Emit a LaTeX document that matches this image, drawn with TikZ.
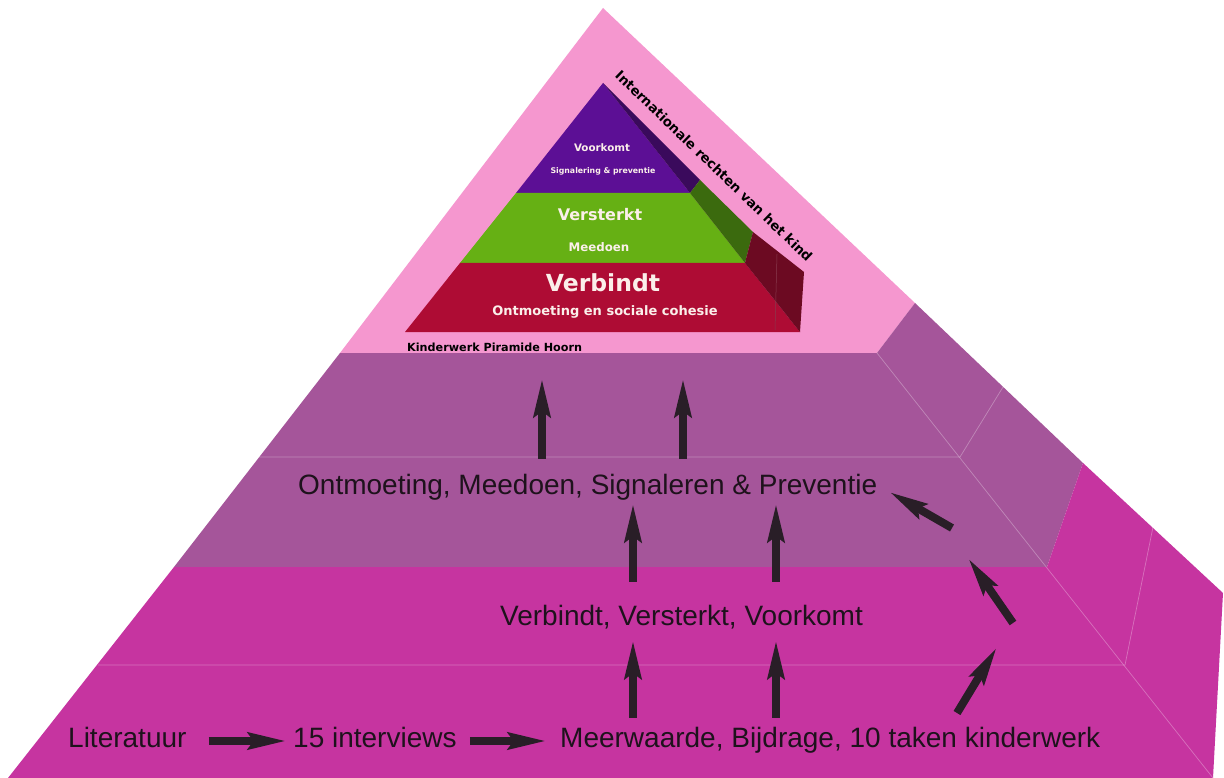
\documentclass[tikz,border=0pt]{standalone}
\usepackage{fontspec}
\setmainfont{Liberation Sans}
\newfontfamily\pyrfont{DejaVu Sans}
\usetikzlibrary{arrows.meta,calc}
\definecolor{pinktop}{HTML}{F597CF}
\definecolor{mauve}{HTML}{A5559A}
\definecolor{bandmag}{HTML}{C634A0}
\definecolor{pyrpurple}{HTML}{5C0F95}
\definecolor{pyrgreen}{HTML}{66B014}
\definecolor{pyrred}{HTML}{AE0C34}
\definecolor{sidepurple}{HTML}{3A0A5C}
\definecolor{sidegreen}{HTML}{3B6A0E}
\definecolor{sidered}{HTML}{6C0A22}
\definecolor{cream}{HTML}{FBEFEA}
\definecolor{ink}{HTML}{1E121C}
\tikzset{
  seam/.style={draw=white,opacity=0.3,line width=0.7pt},
  bigarrow/.style={draw=ink!95,line width=8pt,-{Stealth[length=38pt,width=16pt,inset=5pt]}},
  lbl/.style={font=\fontsize{28}{32}\selectfont,text=ink,inner sep=3pt},
  pyrtext/.style={text=cream,inner sep=1pt}
}

\begin{document}
\begin{tikzpicture}[x=1pt,y=-1pt]
    \useasboundingbox (0,0) rectangle (1224,778);
    \fill[white] (0,0) rectangle (1224,778);

    % big pyramid
    \fill[pinktop] (603,8) -- (915,303) -- (877,353) -- (340,353) -- cycle;
    \fill[mauve] (340,353) -- (877,353) -- (915,303) -- (1083,463) -- (1047,567) -- (174,567) -- cycle;
    \fill[bandmag] (174,567) -- (1047,567) -- (1083,463) -- (1223,593) -- (1213,778) -- (8,778) -- cycle;
    \draw[seam] (259,457) -- (960,457) -- (1003,387);
    \draw[seam] (98,665) -- (1125,665) -- (1153,527);
    \draw[seam] (877,353) -- (1213,778);

    % small pyramid
    \fill[pyrpurple] (603,83) -- (690,193) -- (516,193) -- cycle;
    \fill[pyrgreen] (516,193) -- (690,193) -- (745,263) -- (460,263) -- cycle;
    \fill[pyrred] (460,263) -- (745,263) -- (800,332) -- (405,332) -- cycle;
    \fill[sidepurple] (603,83) -- (700,180) -- (690,193) -- cycle;
    \fill[sidegreen] (690,193) -- (700,180) -- (753,232) -- (745,263) -- cycle;
    \fill[sidered] (745,263) -- (753,232) -- (804,272) -- (800,332) -- cycle;
    \draw[sidered!80!white,line width=0.5pt] (777,254) -- (775,330);

    \node[pyrtext,font=\pyrfont\bfseries\fontsize{10.3}{12}\selectfont] (voork) at (602,148) {Voorkomt};
    \node[pyrtext,font=\pyrfont\bfseries\fontsize{7.8}{9}\selectfont] (sign) at (603,171) {Signalering \& preventie};
    \node[pyrtext,font=\pyrfont\bfseries\fontsize{16}{19}\selectfont] (verst) at (600,215) {Versterkt};
    \node[pyrtext,font=\pyrfont\bfseries\fontsize{11.8}{14}\selectfont] (meed) at (599,247) {Meedoen};
    \node[pyrtext,font=\pyrfont\bfseries\fontsize{23.5}{26}\selectfont] (verbi) at (603,283) {Verbindt};
    \node[pyrtext,font=\pyrfont\bfseries\fontsize{13}{15}\selectfont] (cohes) at (605,312) {Ontmoeting en sociale cohesie};
    \node[font=\pyrfont\bfseries\fontsize{11.2}{13}\selectfont,text=black,inner sep=1pt,anchor=west] (kph) at (406,347) {Kinderwerk Piramide Hoorn};
    \node[font=\pyrfont\bfseries\fontsize{13.3}{15}\selectfont,text=black,rotate=-44] (irk) at (714,166) {Internationale rechten van het kind};

    % labels
    \node[lbl,anchor=base west] (ont) at (295,494) {Ontmoeting, Meedoen, Signaleren \& Preventie};
    \node[lbl,anchor=base west] (verb) at (497,625) {Verbindt, Versterkt, Voorkomt};
    \node[lbl,anchor=base west] (lit) at (65,747) {Literatuur};
    \node[lbl,anchor=base west] (intv) at (290,747) {15 interviews};
    \node[lbl,anchor=base west] (meer) at (557,747) {Meerwaarde, Bijdrage, 10 taken kinderwerk};

    % arrows
    \coordinate (xa) at (542,0);
    \coordinate (xb) at (683,0);
    \coordinate (xc) at (633,0);
    \coordinate (xd) at (776,0);
    \coordinate (topa) at (542,378);
    \coordinate (topb) at (683,378);
    \draw[bigarrow,shorten <=19pt,shorten >=3pt] ([yshift=6pt]lit.base east) -- ([yshift=6pt]intv.base west);
    \draw[bigarrow,shorten <=10pt,shorten >=10pt] ([yshift=6pt]intv.base east) -- ([yshift=6pt]meer.base west);
    \draw[bigarrow,shorten <=6pt,shorten >=8pt] (xc |- meer.north) -- (xc |- verb.south);
    \draw[bigarrow,shorten <=6pt,shorten >=8pt] (xd |- meer.north) -- (xd |- verb.south);
    \draw[bigarrow,shorten <=20pt] (xc |- verb.north) -- (xc |- ont.south);
    \draw[bigarrow,shorten <=20pt] (xd |- verb.north) -- (xd |- ont.south);
    \draw[bigarrow,shorten <=12pt] (xa |- ont.north) -- (topa);
    \draw[bigarrow,shorten <=12pt] (xb |- ont.north) -- (topb);

    \coordinate (d1) at (957,713);
    \coordinate (d2) at (997,647);
    \coordinate (d3) at (1013,623);
    \coordinate (d4) at (968,558);
    \coordinate (d5) at (952,528);
    \draw[bigarrow] (d1) -- (d2);
    \draw[bigarrow] (d3) -- (d4);
    \draw[bigarrow,shorten >=10pt] (d5) -- (ont.east);
\end{tikzpicture}
\end{document}
